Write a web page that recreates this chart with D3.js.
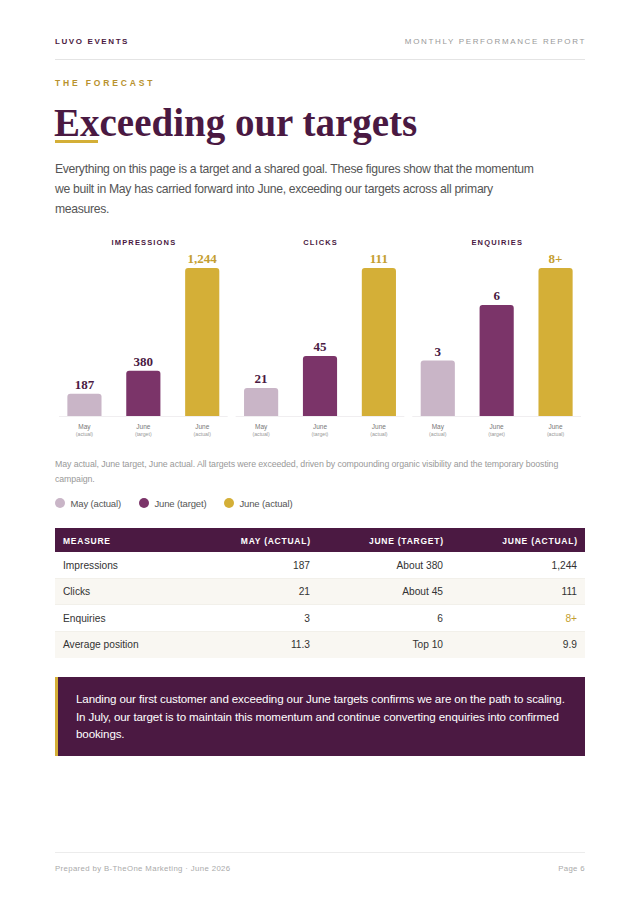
<!DOCTYPE html>
<html><head><meta charset="utf-8">
<script src="https://cdn.jsdelivr.net/npm/d3@7/dist/d3.min.js"></script>
<style>
html,body{margin:0;padding:0;background:#fff;}
body{width:640px;height:905px;position:relative;overflow:hidden;font-family:"Liberation Sans",Arial,sans-serif;}
.abs{position:absolute;white-space:nowrap;}
#hdrL{left:55px;top:37px;font-size:8px;font-weight:bold;letter-spacing:1.6px;color:#4a1942;}
#hdrR{right:54px;top:37px;font-size:8px;letter-spacing:1.65px;color:#999;}
#rule1{left:55px;top:59px;width:530px;height:1px;background:#e4e4e4;}
#kicker{left:55px;top:78px;font-size:8.5px;font-weight:bold;letter-spacing:2.85px;color:#b8922e;}
#title{left:54px;top:100px;font-family:"Liberation Serif","Times New Roman",serif;font-weight:bold;font-size:39px;color:#4a1942;line-height:46px;}
#uline{left:55px;top:140px;width:43px;height:3px;background:#d4af37;}
#intro{left:55px;top:159px;font-size:12.2px;letter-spacing:-0.3px;line-height:20px;color:#555;}
#caption{left:55px;top:457px;font-size:8.8px;letter-spacing:-0.1px;line-height:15px;color:#999;}
#callout{left:55px;top:677px;width:527px;height:79px;background:#4b1942;border-left:3px solid #d4af37;}
#callText{left:76px;top:690px;font-size:11.6px;letter-spacing:-0.13px;line-height:17.5px;color:#fff;}
#rule2{left:55px;top:852px;width:530px;height:1px;background:#ececec;}
#ftL{left:55px;top:864px;font-size:7.8px;letter-spacing:0.36px;color:#aaa;}
#ftR{right:55px;top:864px;font-size:7.8px;letter-spacing:0.36px;color:#aaa;}
svg{position:absolute;left:0;top:0;}
svg text{font-family:"Liberation Sans",Arial,sans-serif;}
</style></head>
<body>
<div class="abs" id="hdrL">LUVO EVENTS</div>
<div class="abs" id="hdrR">MONTHLY PERFORMANCE REPORT</div>
<div class="abs" id="rule1"></div>
<div class="abs" id="kicker">THE FORECAST</div>
<div class="abs" id="title">Exceeding our targets</div>
<div class="abs" id="uline"></div>
<div class="abs" id="intro">Everything on this page is a target and a shared goal. These figures show that the momentum<br>we built in May has carried forward into June, exceeding our targets across all primary<br>measures.</div>
<div class="abs" id="caption">May actual, June target, June actual. All targets were exceeded, driven by compounding organic visibility and the temporary boosting<br>campaign.</div>
<div class="abs" id="callout"></div>
<div class="abs" id="callText">Landing our first customer and exceeding our June targets confirms we are on the path to scaling.<br>In July, our target is to maintain this momentum and continue converting enquiries into confirmed<br>bookings.</div>
<div class="abs" id="rule2"></div>
<div class="abs" id="ftL">Prepared by B-TheOne Marketing · June 2026</div>
<div class="abs" id="ftR">Page 6</div>
<svg id="chart" width="640" height="905"></svg>
<script>
// ---- data ----
const metrics = ["IMPRESSIONS", "CLICKS", "ENQUIRIES"];
const seriesNames = ["May (actual)", "June (target)", "June (actual)"];
const seriesTop = ["May", "June", "June"];
const seriesSub = ["(actual)", "(target)", "(actual)"];
const mayActual = [187, 21, 3];
const juneTarget = [380, 45, 6];
const juneActual = [1244, 111, 8];
const mayLabels = ["187", "21", "3"];
const targetLabels = ["380", "45", "6"];
const actualLabels = ["1,244", "111", "8+"];

const tableHeaders = ["MEASURE", "MAY (ACTUAL)", "JUNE (TARGET)", "JUNE (ACTUAL)"];
const tableMeasures = ["Impressions", "Clicks", "Enquiries", "Average position"];
const tableMay = ["187", "21", "3", "11.3"];
const tableTarget = ["About 380", "About 45", "6", "Top 10"];
const tableActual = ["1,244", "111", "8+", "9.9"];

const colors = ["#c9b5c7", "#7b3469", "#d4af37"];
const labelColors = ["#4a1942", "#4a1942", "#c49e2f"];

const svg = d3.select("#chart");
const panelScale = d3.scaleBand().domain(metrics).range([55, 585]).padding(0);
const barScale = d3.scaleBand().domain(d3.range(3)).range([0, panelScale.bandwidth()]).paddingInner(0.42).paddingOuter(0.21);
const baseY = 416, topY = 268;

metrics.forEach((m, i) => {
  const vals = [mayActual[i], juneTarget[i], juneActual[i]];
  const labs = [mayLabels[i], targetLabels[i], actualLabels[i]];
  const y = d3.scaleLinear().domain([0, d3.max(vals)]).range([baseY, topY]);
  const g = svg.append("g").attr("transform", `translate(${panelScale(m)},0)`);
  g.append("text").attr("x", panelScale.bandwidth() / 2 + 0.6).attr("y", 245)
    .attr("text-anchor", "middle").style("font-size", "7.5px").style("font-weight", "bold")
    .style("letter-spacing", "1.15px").attr("fill", "#4a1942").text(m);
  g.append("line").attr("x1", 4).attr("x2", panelScale.bandwidth() - 4)
    .attr("y1", baseY + 0.5).attr("y2", baseY + 0.5).attr("stroke", "#f0eef0");
  const d = vals.map((v, k) => ({v, k, lab: labs[k]}));
  g.selectAll("path.bar").data(d).enter().append("path").attr("class", "bar")
    .attr("fill", e => colors[e.k])
    .attr("d", e => {
      const x0 = barScale(e.k), w = barScale.bandwidth(), y0 = y(e.v), r = 3;
      return `M${x0},${baseY}V${y0 + r}Q${x0},${y0} ${x0 + r},${y0}H${x0 + w - r}Q${x0 + w},${y0} ${x0 + w},${y0 + r}V${baseY}Z`;
    });
  g.selectAll("text.val").data(d).enter().append("text").attr("class", "val")
    .attr("x", e => barScale(e.k) + barScale.bandwidth() / 2)
    .attr("y", e => y(e.v) - 5)
    .attr("text-anchor", "middle")
    .style("font-family", "'Liberation Serif','Times New Roman',serif")
    .style("font-weight", "bold").style("font-size", "13px")
    .attr("fill", e => labelColors[e.k]).text(e => e.lab);
  g.selectAll("text.cat").data(d).enter().append("text").attr("class", "cat")
    .attr("x", e => barScale(e.k) + barScale.bandwidth() / 2).attr("y", 429)
    .attr("text-anchor", "middle").style("font-size", "6.5px").attr("fill", "#777")
    .text(e => seriesTop[e.k]);
  g.selectAll("text.sub").data(d).enter().append("text").attr("class", "sub")
    .attr("x", e => barScale(e.k) + barScale.bandwidth() / 2).attr("y", 436)
    .attr("text-anchor", "middle").style("font-size", "5.2px").attr("fill", "#999")
    .text(e => seriesSub[e.k]);
});

// legend
const legendX = [60, 144, 229];
seriesNames.forEach((s, k) => {
  svg.append("circle").attr("cx", legendX[k]).attr("cy", 503).attr("r", 5).attr("fill", colors[k]);
  svg.append("text").attr("x", legendX[k] + 10.5).attr("y", 506.5).style("font-size", "9.5px")
    .style("letter-spacing", "-0.15px").attr("fill", "#555").text(s);
});

// table
const tTop = 528, hH = 24, rH = 26.5;
const colRight = [null, 310, 443, 577];
svg.append("rect").attr("x", 55).attr("y", tTop).attr("width", 530).attr("height", hH).attr("fill", "#4b1942");
tableHeaders.forEach((h, c) => {
  svg.append("text").attr("x", c === 0 ? 63 : colRight[c] + 0.75).attr("y", tTop + 15.5)
    .attr("text-anchor", c === 0 ? "start" : "end")
    .style("font-size", "8.5px").style("font-weight", "bold").style("letter-spacing", "0.75px")
    .attr("fill", "#fff").text(h);
});
tableMeasures.forEach((m, r) => {
  const y0 = tTop + hH + r * rH;
  svg.append("rect").attr("x", 55).attr("y", y0).attr("width", 530).attr("height", rH)
    .attr("fill", r % 2 === 1 ? "#f9f7f2" : "#fff");
  if (r < tableMeasures.length - 1)
    svg.append("line").attr("x1", 55).attr("x2", 585).attr("y1", y0 + rH).attr("y2", y0 + rH).attr("stroke", "#ebe8e2");
  const cells = [m, tableMay[r], tableTarget[r], tableActual[r]];
  cells.forEach((t, c) => {
    svg.append("text").attr("x", c === 0 ? 63 : colRight[c]).attr("y", y0 + 16.5)
      .attr("text-anchor", c === 0 ? "start" : "end")
      .style("font-size", "10.2px")
      .attr("fill", (c === 3 && t === "8+") ? "#c49e2f" : "#333").text(t);
  });
});
</script>
</body></html>
